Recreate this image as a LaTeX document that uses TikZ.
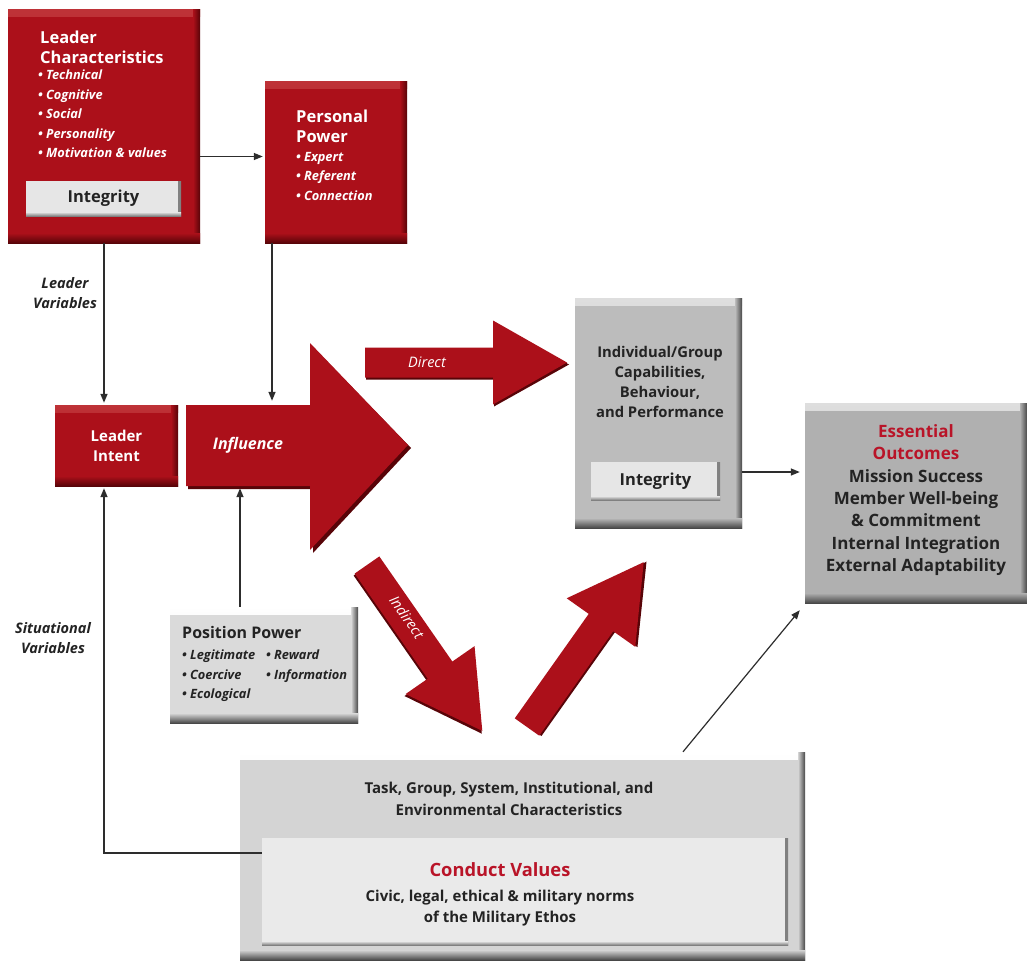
\documentclass[tikz,border=0pt]{standalone}
\usepackage{fontspec}
\setmainfont{Open Sans}
\usetikzlibrary{arrows.meta,calc}
\definecolor{rmain}{RGB}{172,16,26}
\definecolor{rdark}{RGB}{88,4,8}
\definecolor{rlight}{RGB}{190,50,55}
\definecolor{gmid}{RGB}{188,188,188}
\definecolor{gmidb}{RGB}{176,176,176}
\definecolor{gdark}{RGB}{72,72,72}
\definecolor{glight}{RGB}{222,222,222}
\definecolor{gpale}{RGB}{218,218,218}
\definecolor{genv}{RGB}{212,212,212}
\definecolor{gcv}{RGB}{234,234,234}
\definecolor{gint}{RGB}{230,230,230}
\definecolor{txt}{RGB}{35,35,35}
\definecolor{tred}{RGB}{185,20,40}
\definecolor{linec}{RGB}{45,45,45}
\tikzset{
  bevelbox/.style n args={3}{fill=#1, inner sep=0pt, path picture={
    \shade[top color=#3, bottom color=#1] (path picture bounding box.north west) rectangle ([yshift=-7pt]path picture bounding box.north east);
    \shade[left color=#1, right color=#2] ([xshift=-7pt]path picture bounding box.north east) rectangle (path picture bounding box.south east);
    \shade[top color=#1, bottom color=#2] ([yshift=10pt]path picture bounding box.south west) rectangle (path picture bounding box.south east);
  }},
  thinbevel/.style n args={2}{fill=#1, inner sep=0pt, path picture={
    \shade[left color=#1, right color=#2] ([xshift=-3pt]path picture bounding box.north east) rectangle (path picture bounding box.south east);
    \shade[top color=#1, bottom color=#2] ([yshift=4pt]path picture bounding box.south west) rectangle (path picture bounding box.south east);
  }},
  redbox/.style={bevelbox={rmain}{rdark}{rlight}},
  greybox/.style={bevelbox={gmid}{gdark}{glight}},
  greyboxb/.style={bevelbox={gmidb}{gdark}{glight}},
  palebox/.style={bevelbox={gpale}{gdark}{white}},
  envbox/.style={bevelbox={genv}{gdark}{white}},
  cvbox/.style={thinbevel={gcv}{gray}},
  intbox/.style={thinbevel={gint}{gray}, text=txt, font=\fontsize{16.5}{19}\selectfont\bfseries},
  whitetitle/.style={anchor=north west, align=left, text=white, font=\fontsize{16.5}{19.5}\selectfont\bfseries},
  whitebul/.style={anchor=north west, align=left, text=white, font=\fontsize{12.8}{19.5}\selectfont\bfseries\itshape},
  darkbul/.style={anchor=north west, align=left, text=txt, font=\fontsize{12.8}{19.5}\selectfont\bfseries\itshape},
  sidelabel/.style={align=center, text=txt, font=\fontsize{14.5}{20}\selectfont\bfseries\itshape},
  conn/.style={draw=linec, line width=1.4pt, -{Triangle[length=9pt,width=7pt]}},
  bigarr/.pic={
    \fill[rdark] (1,-13) -- (129,-13) -- (129,-40) -- (204,2) -- (129,44) -- (129,17) -- (1,17) -- cycle;
    \fill[rmain] (0,-15) -- (128,-15) -- (128,-42) -- (202,0) -- (128,42) -- (128,15) -- (0,15) -- cycle;
  }
}
\begin{document}
\begin{tikzpicture}[x=1pt,y=-1pt, every node/.style={inner sep=0pt}]
\useasboundingbox (0,0) rectangle (1027,963);
\fill[white] (0,0) rectangle (1027,963);

% Leader characteristics
\node[redbox, minimum width=192pt, minimum height=233pt] (lc) at (104,126.5) {};
\node[intbox, minimum width=155pt, minimum height=35pt] (lcint) at (103.5,198.5) {Integrity};
\node[whitetitle] (lctitle) at (40,31) {Leader\\Characteristics};
\node[whitebul] (lcbul) at (38,70) {• Technical\\• Cognitive\\• Social\\• Personality\\• Motivation \& values};

% Personal power
\node[redbox, minimum width=142pt, minimum height=161pt] (pp) at (336,162.5) {};
\node[whitetitle] (pptitle) at (296,110) {Personal\\Power};
\node[whitebul] (ppbul) at (296,152) {• Expert\\• Referent\\• Connection};

% Leader intent
\node[redbox, minimum width=123pt, minimum height=81pt, align=center, text=white, font=\fontsize{15}{20}\selectfont\bfseries] (li) at (116.5,445.5) {Leader\\Intent};

% Influence arrow
\fill[rdark] (188,408) -- (313,408) -- (313,347) -- (411,448) -- (313,553) -- (313,489) -- (188,489) -- cycle;
\fill[rmain] (186,405) -- (310,405) -- (310,343) -- (408,445) -- (310,550) -- (310,486) -- (186,486) -- cycle;
\node[minimum width=124pt, minimum height=81pt, text=white, font=\fontsize{16}{18}\selectfont\bfseries\itshape] (inf) at (248,445.5) {Influence};

% Direct / indirect / up arrows
\pic at (365,362.5) {bigarr};
\node[text=white, font=\fontsize{14.5}{16}\selectfont\itshape] (dirtxt) at (427,362) {Direct};
\pic[rotate=-55.2] at (367,565) {bigarr};
\node[rotate=-55.2, text=white, font=\fontsize{14.5}{16}\selectfont\itshape] (indtxt) at (407,617) {Indirect};
\pic[rotate=54.7] at (527,727) {bigarr};

% Individual / group
\node[greybox, minimum width=167pt, minimum height=230pt] (ig) at (658.5,413) {};
\node[align=center, text=txt, font=\fontsize{14.8}{20}\selectfont\bfseries] (igtxt) at (660,382) {Individual/Group\\Capabilities,\\Behaviour,\\and Performance};
\node[intbox, minimum width=129pt, minimum height=38pt] (igint) at (655.5,481) {Integrity};

% Essential outcomes
\node[greyboxb, minimum width=222pt, minimum height=200pt] (eo) at (916,503) {};
\node[align=center, text=txt, font=\fontsize{17}{22.3}\selectfont\bfseries] (eotxt) at (916,500) {\textcolor{tred}{Essential}\\\textcolor{tred}{Outcomes}\\Mission Success\\Member Well-being\\\& Commitment\\Internal Integration\\External Adaptability};

% Position power
\node[palebox, minimum width=188pt, minimum height=116pt] (pos) at (264,665) {};
\node[anchor=west, text=txt, font=\fontsize{16}{18}\selectfont\bfseries] (postitle) at (182,632) {Position Power};
\node[darkbul] (poscola) at (182,650) {• Legitimate\\• Coercive\\• Ecological};
\node[darkbul] (poscolb) at (266,650) {• Reward\\• Information};

% Environment and conduct values
\node[envbox, minimum width=565pt, minimum height=208pt] (env) at (522.5,856) {};
\node[cvbox, minimum width=526pt, minimum height=107pt] (cv) at (525,891.5) {};
\node[align=center, text=txt, font=\fontsize{15}{22}\selectfont\bfseries] (envtxt) at (509,799) {Task, Group, System, Institutional, and\\Environmental Characteristics};
\node[text=tred, font=\fontsize{18.3}{20}\selectfont\bfseries] (cvtitle) at (500,870) {Conduct Values};
\node[align=center, text=txt, font=\fontsize{15}{21}\selectfont\bfseries] (cvtxt) at (500,908) {Civic, legal, ethical \& military norms\\of the Military Ethos};

% Side labels
\node[sidelabel] (lvar) at (65,293) {Leader\\Variables};
\node[sidelabel] (svar) at (53,638) {Situational\\Variables};

% Connectors
\draw[conn, shorten >=2pt] ([yshift=-30pt]lc.east) -- ([yshift=-30pt]lc.east -| pp.west);
\draw[conn, shorten >=2pt] (lc.south) -- (lc.south |- li.north);
\draw[conn, shorten >=4pt] ([xshift=-64pt]pp.south) -- ([xshift=-64pt]pp.south |- inf.north);
\draw[conn, shorten >=2pt] ([xshift=-24pt]pos.north) -- ([xshift=-24pt]pos.north |- inf.south);
\draw[conn, shorten >=2pt] ([yshift=38.5pt]cv.west) -| (lc.south |- li.south);
\draw[conn, shorten >=5pt] ([yshift=-59pt]ig.east) -- ([yshift=-59pt]ig.east -| eo.west);
\draw[conn, line width=1.2pt] ([xshift=160.5pt]env.north) -- ($(eo.south west)+(-5,7)$);
\end{tikzpicture}
\end{document}
